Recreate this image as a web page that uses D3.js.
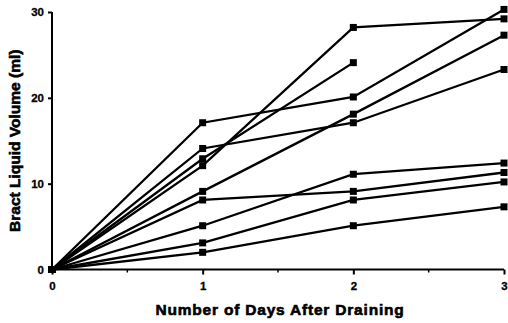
<!DOCTYPE html>
<html lang="en">
<head>
    <meta charset="UTF-8">
    <title>Bract Liquid Volume</title>
    <style>
        body { margin: 0; background: #fff; }
        svg text { font-family: "Liberation Sans", Arial, sans-serif; font-weight: bold; fill: #000; }
    </style>
    <script src="https://d3js.org/d3.v7.min.js"></script>
</head>
<body>
    <div id="chart"></div>
    <script>
        // days after draining
        const days = [0, 1, 2, 3];
        // one array per bract (ml); a shorter one stops early
        const bract1 = [0, 17.1, 20.1, 30.3];
        const bract2 = [0, 14.1, 17.1, 23.3];
        const bract3 = [0, 12.9, 24.1];
        const bract4 = [0, 12.1, 28.2, 29.2];
        const bract5 = [0, 9.1, 18.1, 27.3];
        const bract6 = [0, 8.1, 9.1, 11.3];
        const bract7 = [0, 5.1, 11.1, 12.4];
        const bract8 = [0, 3.1, 8.1, 10.2];
        const bract9 = [0, 2.0, 5.1, 7.3];
        const series = [bract1, bract2, bract3, bract4, bract5, bract6, bract7, bract8, bract9];

        const yTicks = [0, 10, 20, 30];
        const xTicks = [0, 1, 2, 3];
        const xMinor = [0.5, 1.5, 2.5];

        const width = 508, height = 323;
        const svg = d3.select("#chart").append("svg")
            .attr("width", width)
            .attr("height", height);

        const x = d3.scaleLinear().domain([0, 3]).range([52, 504]);
        const y = d3.scaleLinear().domain([0, 30]).range([269.5, 12]);

        // axes
        const yAxis = svg.append("g")
            .attr("transform", `translate(${x(0)},0)`)
            .call(d3.axisLeft(y).tickValues(yTicks).tickSize(4).tickPadding(4));
        yAxis.select(".domain").attr("d", `M0,${y(0)}V${y(30)}`).attr("stroke-width", 2);
        yAxis.selectAll(".tick line").attr("stroke-width", 2);
        yAxis.selectAll("text").attr("font-size", 11.5)
            .attr("stroke", "#000").attr("stroke-width", 0.3);

        const xAxis = svg.append("g")
            .attr("transform", `translate(0,${y(0)})`)
            .call(d3.axisBottom(x).tickValues(xTicks).tickFormat(d3.format("d")).tickSize(5).tickPadding(7));
        xAxis.select(".domain").attr("d", `M${x(0)},0H${x(3)}`).attr("stroke-width", 2);
        xAxis.selectAll(".tick line").attr("stroke-width", 2);
        xAxis.selectAll("text").attr("font-size", 11.5)
            .attr("stroke", "#000").attr("stroke-width", 0.3);

        svg.append("g")
            .selectAll("line")
            .data(xMinor)
            .join("line")
            .attr("x1", d => x(d)).attr("x2", d => x(d))
            .attr("y1", y(0)).attr("y2", y(0) + 3)
            .attr("stroke", "#000").attr("stroke-width", 1.5);

        // lines + square markers
        const line = d3.line()
            .x((d, i) => x(days[i]))
            .y(d => y(d));

        svg.append("g")
            .selectAll("path")
            .data(series)
            .join("path")
            .attr("d", line)
            .attr("fill", "none")
            .attr("stroke", "#000")
            .attr("stroke-width", 2.3);

        const s = 7;
        svg.append("g")
            .selectAll("g")
            .data(series)
            .join("g")
            .selectAll("rect")
            .data(d => d.map((v, i) => ({ day: days[i], v: v })))
            .join("rect")
            .attr("x", d => x(d.day) - s / 2)
            .attr("y", d => y(d.v) - s / 2)
            .attr("width", s)
            .attr("height", s)
            .attr("fill", "#000");

        // axis titles
        svg.append("text")
            .attr("x", 280)
            .attr("y", 315)
            .attr("text-anchor", "middle")
            .attr("font-size", 15.5)
            .attr("letter-spacing", 0.8)
            .attr("stroke", "#000").attr("stroke-width", 0.6)
            .text("Number of Days After Draining");

        svg.append("text")
            .attr("transform", `translate(20,${(y(0) + y(30)) / 2})rotate(-90)`)
            .attr("text-anchor", "middle")
            .attr("font-size", 15.5)
            .attr("stroke", "#000").attr("stroke-width", 0.6)
            .text("Bract Liquid Volume (ml)");
    </script>
</body>
</html>
